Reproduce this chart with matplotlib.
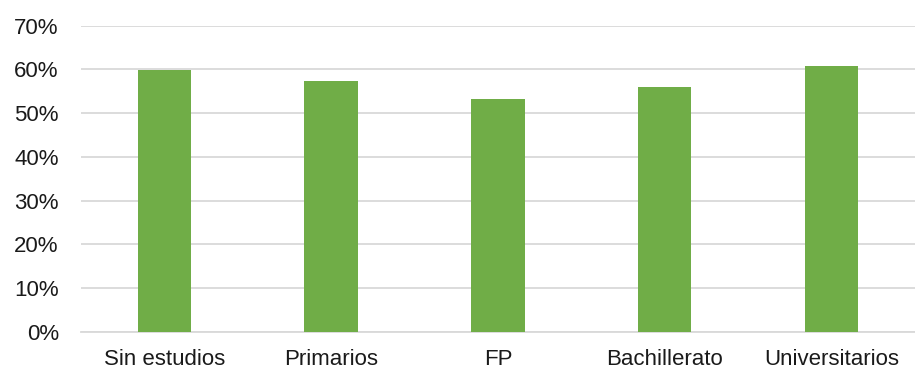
import numpy as np
import matplotlib.pyplot as plt
from matplotlib.ticker import FuncFormatter

plt.rcParams['font.family'] = ['Liberation Sans', 'DejaVu Sans']

# Datos
categorias = ['Sin estudios', 'Primarios', 'FP', 'Bachillerato', 'Universitarios']
valores = [0.599, 0.573, 0.533, 0.560, 0.609]

fig = plt.figure(figsize=(9.15, 3.7), dpi=100)
ax = fig.add_axes([0.0885, 0.1027, 0.9115, 0.8278])

x = np.arange(len(categorias))
ax.bar(x, valores, width=0.32, color='#70AD47', zorder=3)

ax.set_xlim(-0.5, len(categorias) - 0.5)
ax.set_ylim(0, 0.7)
ax.set_yticks(np.arange(0, 0.71, 0.1))
ax.yaxis.set_major_formatter(FuncFormatter(lambda v, p: '{:.0f}%'.format(v * 100)))
ax.set_xticks(x)
ax.set_xticklabels(categorias)

ax.grid(axis='y', color='#d9d9d9', linewidth=1.3, zorder=0)
for s in ['top', 'right', 'left']:
    ax.spines[s].set_visible(False)
ax.spines['bottom'].set_color('#d9d9d9')
ax.spines['bottom'].set_linewidth(1.3)

ax.tick_params(axis='both', length=0, labelsize=16, colors='#1a1a1a')
ax.tick_params(axis='y', pad=16)
ax.tick_params(axis='x', pad=12)

fig.savefig('out.png', dpi=100)
